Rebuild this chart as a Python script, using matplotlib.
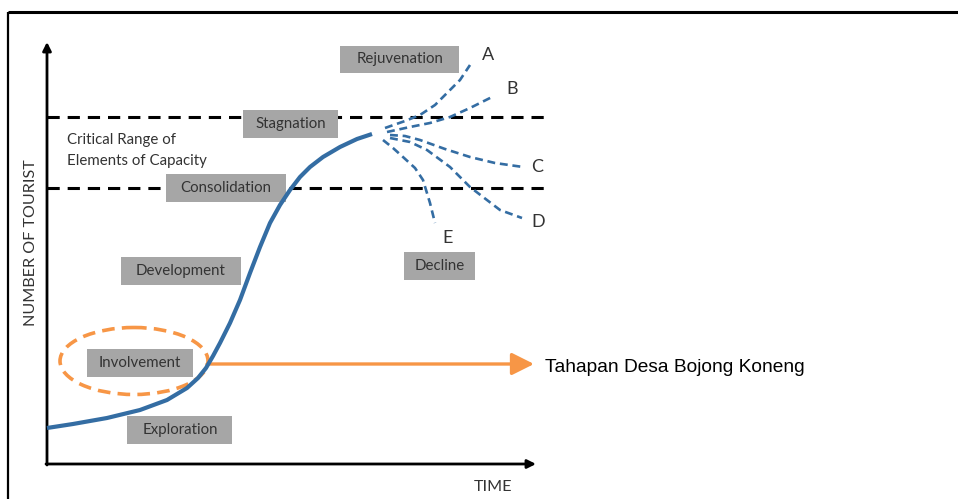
import matplotlib
matplotlib.use("Agg")
import matplotlib.pyplot as plt
from matplotlib.patches import Rectangle, Ellipse

# ---- data (pixel-space reading of the diagram) ----
curve_x = [47, 73, 107, 140, 167, 187, 198, 206, 213, 220, 230, 240, 250, 260,
           270, 280, 290, 300, 310, 323, 340, 357, 372]
curve_y = [428, 424, 418, 410, 400, 388, 378, 368, 356, 343, 323, 300, 273, 247,
           223, 205, 190, 177, 167, 157, 147, 139, 134]

branch_labels = ["A", "B", "C", "D", "E"]
branch_A_x = [385, 405, 420, 435, 447, 460, 470]
branch_A_y = [128, 121, 115, 105, 93, 80, 65]
branch_B_x = [387, 410, 430, 450, 470, 492]
branch_B_y = [132, 127, 123, 117, 108, 97]
branch_C_x = [390, 405, 420, 445, 470, 495, 523]
branch_C_y = [135, 136, 140, 149, 157, 163, 167]
branch_D_x = [390, 410, 427, 450, 470, 500, 522]
branch_D_y = [138, 142, 150, 167, 187, 210, 218]
branch_E_x = [383, 393, 403, 415, 423, 430, 435]
branch_E_y = [140, 148, 157, 168, 180, 203, 223]
branches_x = [branch_A_x, branch_B_x, branch_C_x, branch_D_x, branch_E_x]
branches_y = [branch_A_y, branch_B_y, branch_C_y, branch_D_y, branch_E_y]
branch_label_x = [488, 512, 537, 538, 448]
branch_label_y = [55, 89, 167, 222, 238]

stage_names = ["Rejuvenation", "Stagnation", "Consolidation", "Development",
               "Involvement", "Exploration", "Decline"]
stage_cx = [400, 291, 226, 181, 140, 180, 440]
stage_cy = [59, 124, 188, 271, 363, 430, 266]
stage_w = [119, 95, 120, 120, 106, 105, 71]
stage_h = [27, 28, 28, 28, 28, 28, 28]

capacity_levels = [117, 188]
capacity_x = [47, 547]

BLUE = "#346da3"
ORANGE = "#f79646"
GREY = "#a6a6a6"
TXT = "#333333"
FONT = "Lato"

fig = plt.figure(figsize=(9.58, 4.99), dpi=100)
ax = fig.add_axes([0, 0, 1, 1])
ax.set_xlim(0, 958)
ax.set_ylim(499, 0)
ax.axis("off")

# frame
ax.plot([8, 8], [12, 499], color="black", lw=1.6, solid_capstyle="butt")
ax.plot([8, 958], [12, 12], color="black", lw=2.2, solid_capstyle="butt")

# axes arrows
ax.annotate("", xy=(47, 42), xytext=(47, 465),
            arrowprops=dict(arrowstyle="-|>,head_length=0.5,head_width=0.25",
                            lw=2.0, color="black", shrinkA=0, shrinkB=0))
ax.annotate("", xy=(536, 464), xytext=(46, 464),
            arrowprops=dict(arrowstyle="-|>,head_length=0.5,head_width=0.25",
                            lw=2.0, color="black", shrinkA=0, shrinkB=0))
ax.text(31, 243, "NUMBER OF TOURIST", rotation=90, ha="center", va="center",
        fontsize=11.6, color=TXT, family=FONT)
ax.text(493, 487, "TIME", ha="center", va="center", fontsize=11.6, color=TXT, family=FONT)

# capacity lines
for lv in capacity_levels:
    ax.plot(capacity_x, [lv, lv], color="black", lw=2.2, dashes=(4, 2.6), zorder=2)
ax.text(67, 140, "Critical Range of", ha="left", va="center", fontsize=10.8,
        color=TXT, family=FONT)
ax.text(67, 161, "Elements of Capacity", ha="left", va="center", fontsize=10.8,
        color=TXT, family=FONT)

# stage boxes
for name, cx, cy, w, h in zip(stage_names, stage_cx, stage_cy, stage_w, stage_h):
    ax.add_patch(Rectangle((cx - w / 2, cy - h / 2), w, h, facecolor=GREY,
                           edgecolor="none", zorder=3))
    ax.text(cx, cy, name, ha="center", va="center", fontsize=10.8, color=TXT,
            family=FONT, zorder=4)

# orange ellipse + arrow
ax.add_patch(Ellipse((134, 361), 148, 67, facecolor="none", edgecolor=ORANGE,
                     lw=2.6, linestyle=(0, (3.5, 2)), zorder=5))
ax.annotate("", xy=(534, 364), xytext=(207, 364),
            arrowprops=dict(arrowstyle="-|>,head_length=0.9,head_width=0.45",
                            lw=2.4, color=ORANGE, shrinkA=0, shrinkB=0,
                            mutation_scale=15), zorder=5)
ax.text(545, 367, "Tahapan Desa Bojong Koneng", ha="left", va="center",
        fontsize=13.8, color="black", family="Liberation Sans")

# main curve
ax.plot(curve_x, curve_y, color=BLUE, lw=3.0, solid_capstyle="butt",
        solid_joinstyle="round", zorder=6)

# branches
for bx, by in zip(branches_x, branches_y):
    ax.plot(bx, by, color=BLUE, lw=1.9, dashes=(3, 1.8), zorder=6)
for lab, lx, ly in zip(branch_labels, branch_label_x, branch_label_y):
    ax.text(lx, ly, lab, ha="center", va="center", fontsize=13, color=TXT, family=FONT)

fig.savefig("out.png", dpi=100)
